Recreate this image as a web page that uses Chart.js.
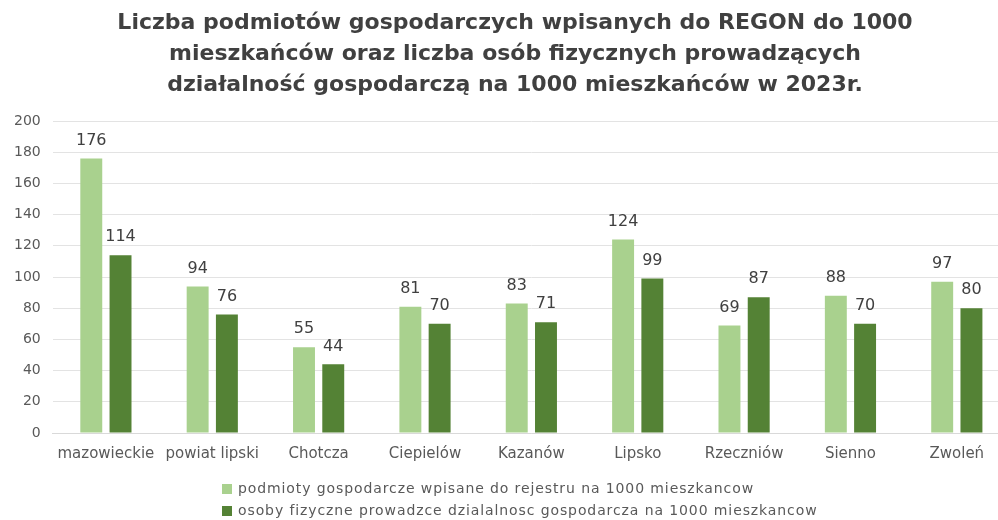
<!DOCTYPE html>
<html lang="pl">
<head>
  <meta charset="UTF-8">
  <title>Podmioty gospodarcze na 1000 mieszkańców</title>
  <script src="https://cdn.jsdelivr.net/npm/chart.js"></script>
  <style>
    html, body { margin: 0; padding: 0; background: #fff; overflow: hidden; }
  </style>
</head>
<body>
  <canvas id="regonChart" width="1032" height="520"></canvas>

  <script>
    const gminy = ['mazowieckie', 'powiat lipski', 'Chotcza', 'Ciepielów', 'Kazanów', 'Lipsko', 'Rzeczniów', 'Sienno', 'Zwoleń'];
    const podmiotyRegon = [176, 94, 55, 81, 83, 124, 69, 88, 97];
    const osobyFizyczne = [114, 76, 44, 70, 71, 99, 87, 70, 80];
    const tytul = [
      'Liczba podmiotów gospodarczych wpisanych do REGON do 1000',
      'mieszkańców oraz liczba osób fizycznych prowadzących',
      'działalność gospodarczą na 1000 mieszkańców w 2023r.'
    ];
    const nazwySerii = [
      'podmioty gospodarcze wpisane do rejestru na 1000 mieszkancow',
      'osoby fizyczne prowadzce dzialalnosc gospodarcza na 1000 mieszkancow'
    ];

    // etykiety wartosci nad slupkami
    const wartosciNadSlupkami = {
      id: 'wartosci',
      afterDatasetsDraw(chart) {
        const ctx = chart.ctx;
        ctx.save();
        ctx.font = '16px "DejaVu Sans"';
        ctx.fillStyle = '#404040';
        ctx.textAlign = 'center';
        ctx.textBaseline = 'bottom';
        chart.data.datasets.forEach((ds, i) => {
          chart.getDatasetMeta(i).data.forEach((bar, j) => {
            ctx.fillText(ds.data[j], bar.x, bar.y - 10);
          });
        });
        ctx.restore();
      }
    };

    // legenda pionowa, wyrownana do lewej
    const legendaPionowa = {
      id: 'legendaPionowa',
      afterDraw(chart) {
        const ctx = chart.ctx;
        ctx.save();
        ctx.font = '14px "DejaVu Sans"';
        ctx.letterSpacing = '0.9px';
        ctx.textBaseline = 'middle';
        chart.data.datasets.forEach((ds, i) => {
          const y = 489 + i * 22;
          ctx.fillStyle = ds.backgroundColor;
          ctx.fillRect(222, y - 5, 10, 10);
          ctx.fillStyle = '#595959';
          ctx.fillText(ds.label, 238, y);
        });
        ctx.restore();
      }
    };

    // tytul troche w prawo (jak w oryginale)
    const przesunTytul = {
      id: 'przesunTytul',
      afterLayout(chart) {
        if (chart.titleBlock) {
          chart.titleBlock.left += 9;
          chart.titleBlock.right += 9;
        }
      }
    };

    const ctx = document.getElementById('regonChart').getContext('2d');
    new Chart(ctx, {
      type: 'bar',
      data: {
        labels: gminy,
        datasets: [
          { label: nazwySerii[0], data: podmiotyRegon, backgroundColor: '#A9D18E' },
          { label: nazwySerii[1], data: osobyFizyczne, backgroundColor: '#548235' }
        ]
      },
      options: {
        responsive: false,
        animation: false,
        categoryPercentage: 0.55,
        barPercentage: 0.75,
        layout: { padding: { left: 2, right: 22, top: 0, bottom: 45 } },
        scales: {
          x: {
            grid: { display: false, drawTicks: false },
            border: { color: '#D9D9D9' },
            ticks: { color: '#595959', font: { family: 'DejaVu Sans', size: 15 }, padding: 12 }
          },
          y: {
            min: 0,
            max: 200,
            ticks: { stepSize: 20, color: '#595959', font: { family: 'DejaVu Sans', size: 14 }, padding: 12 },
            grid: { color: '#E3E3E3', drawTicks: false },
            border: { display: false }
          }
        },
        plugins: {
          legend: { display: false },
          tooltip: { enabled: false },
          title: {
            display: true,
            text: tytul,
            color: '#404040',
            font: { family: 'DejaVu Sans', size: 22, weight: 'bold', lineHeight: 1.41 },
            padding: { top: 8, bottom: 20 }
          }
        }
      },
      plugins: [wartosciNadSlupkami, legendaPionowa, przesunTytul]
    });
  </script>
</body>
</html>
